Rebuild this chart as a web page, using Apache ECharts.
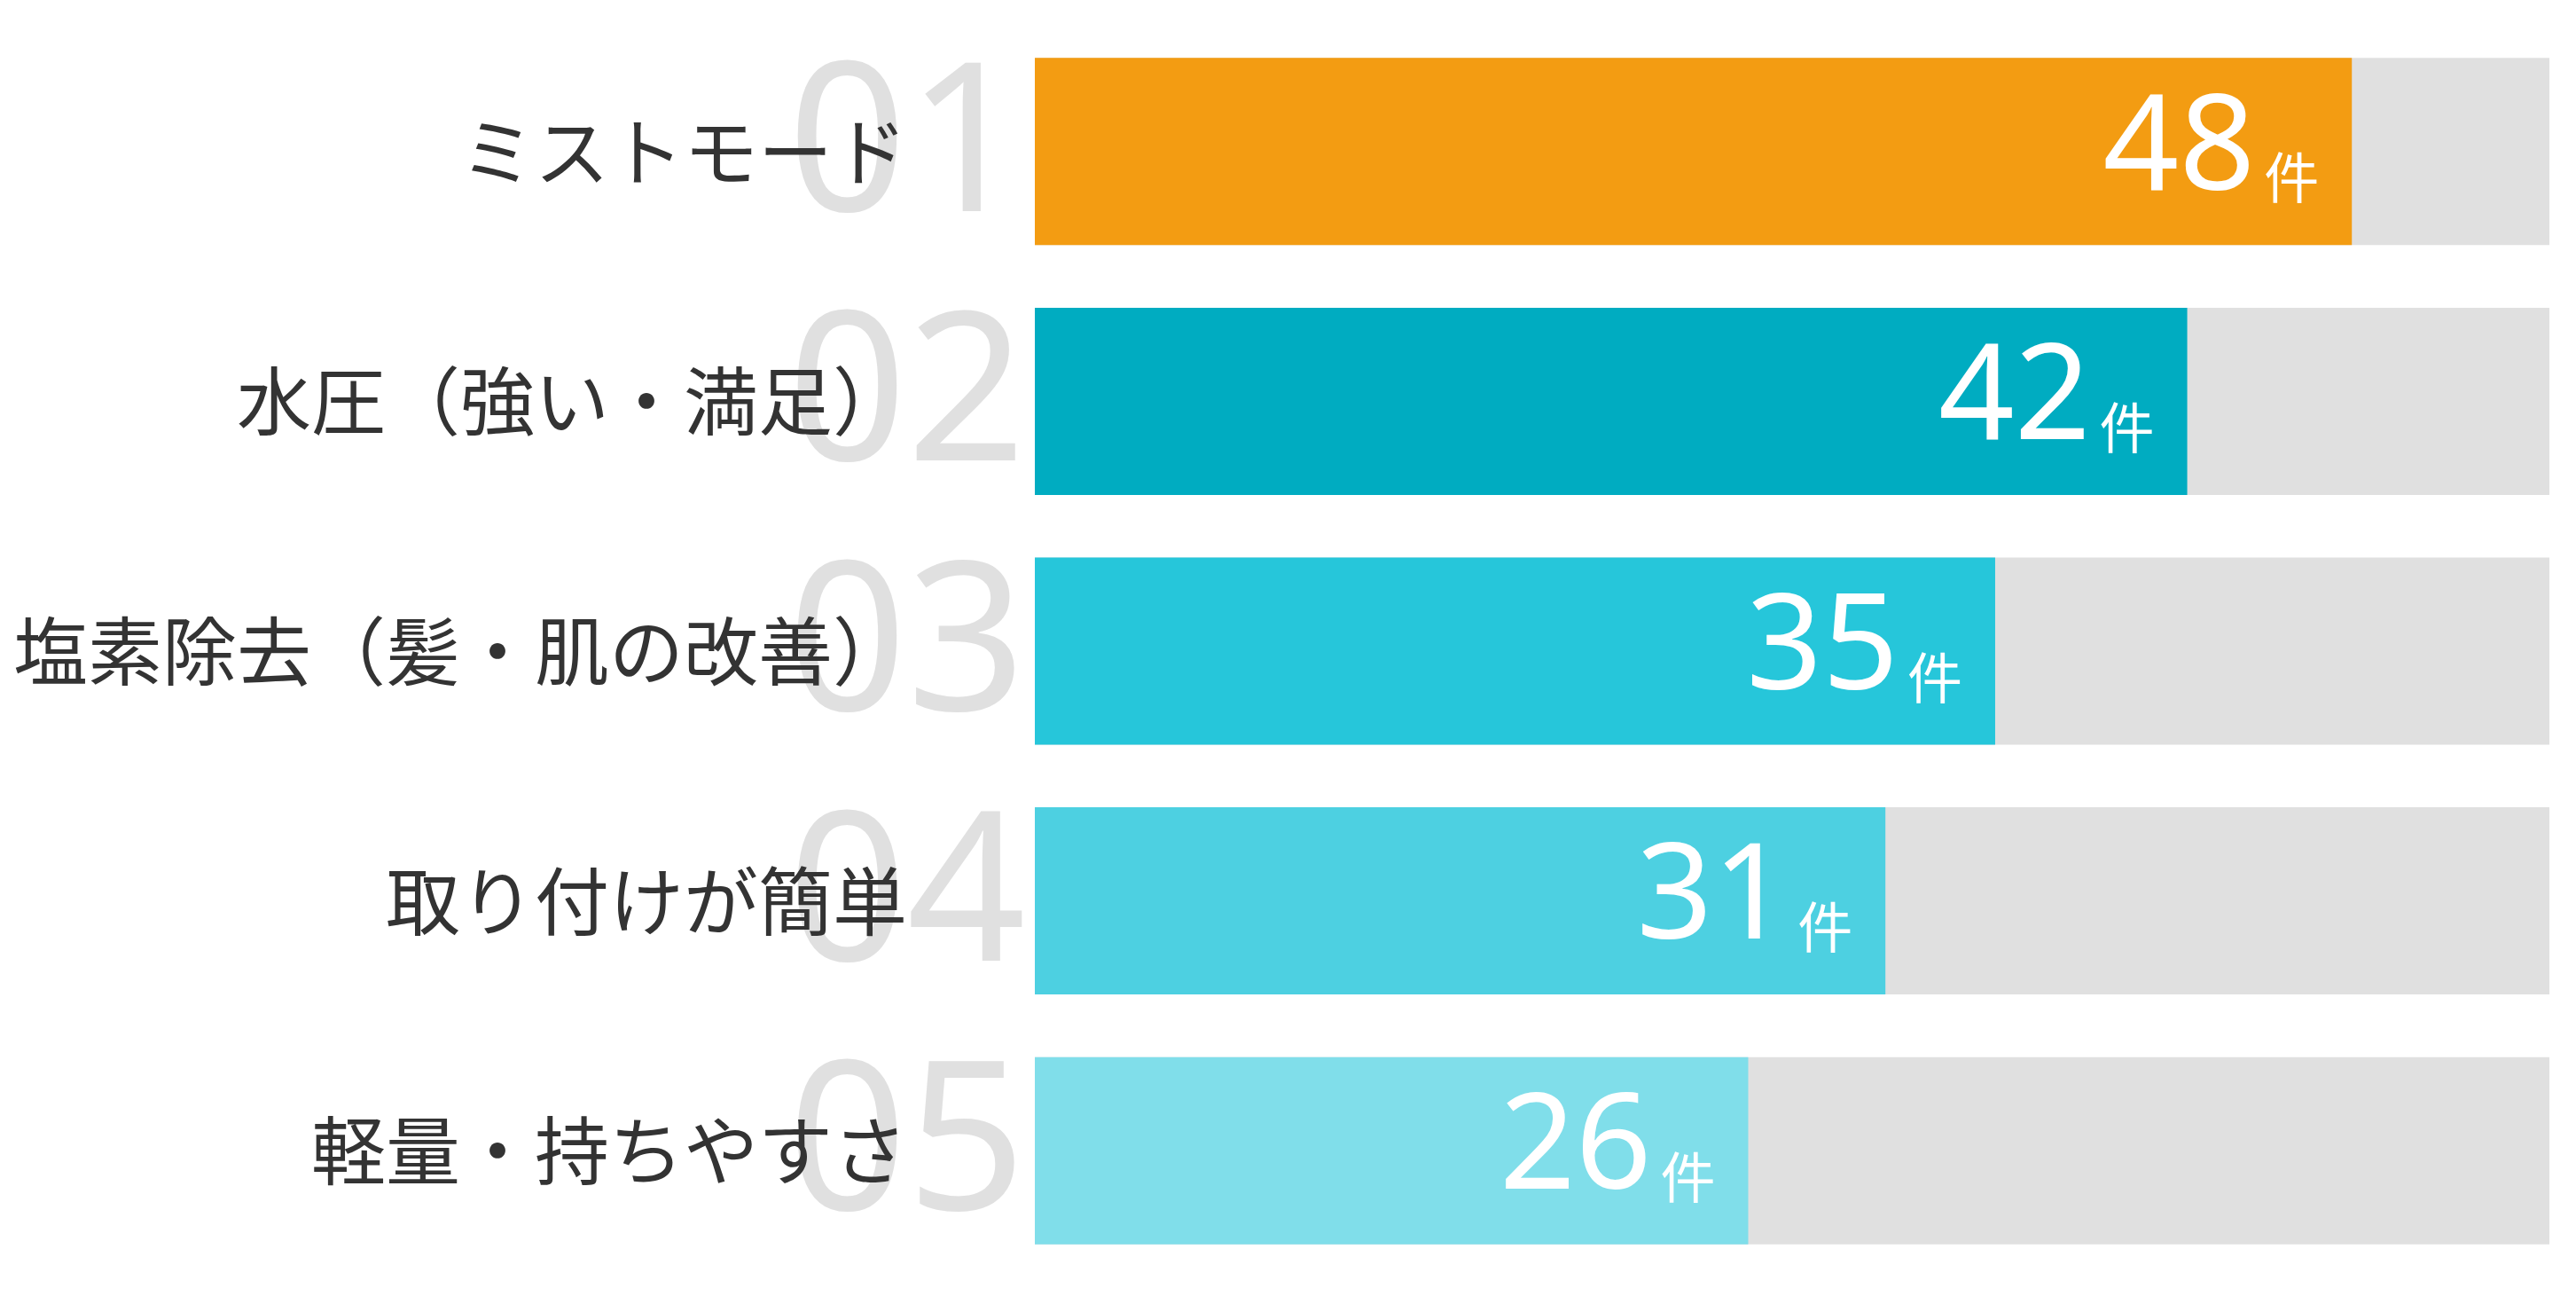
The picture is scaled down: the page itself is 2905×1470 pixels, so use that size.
<!DOCTYPE html>
<html><head><meta charset="utf-8">
<script src="https://cdn.jsdelivr.net/npm/echarts@6/dist/echarts.min.js"></script>
<style>html,body{margin:0;padding:0;background:#fff}#c{width:2905px;height:1470px}</style>
</head><body><div id="c"></div>
<script>
const categories = ['ミストモード','水圧（強い・満足）','塩素除去（髪・肌の改善）','取り付けが簡単','軽量・持ちやすさ'];
const ranks = ['01','02','03','04','05'];
const values = [48,42,35,31,26];
const colors = ['#F39C12','#00ACC1','#26C6DA','#4DD0E1','#80DEEA'];
const chart = echarts.init(document.getElementById('c'));
chart.setOption({
  animation:false,
  grid:{left:1167,right:30,top:30,bottom:32},
  xAxis:{type:'value',min:0,max:55.2,show:false},
  yAxis:[
    {type:'category',data:ranks,inverse:true,z:1,axisLine:{show:false},axisTick:{show:false},
     axisLabel:{interval:0,hideOverlap:false,margin:10,fontSize:235,color:'#e0e0e0',fontFamily:'Noto Sans',fontWeight:400}},
    {type:'category',data:categories,inverse:true,position:'left',z:3,axisLine:{show:false},axisTick:{show:false},
     axisLabel:{interval:0,hideOverlap:false,margin:144,fontSize:84,color:'#333',fontFamily:'Noto Sans CJK JP'}}
  ],
  series:[{type:'bar',yAxisIndex:0,barWidth:211,showBackground:true,backgroundStyle:{color:'#e0e0e0'},
    data:values.map((v,i)=>({value:v,itemStyle:{color:colors[i]}})),
    label:{show:true,position:'insideRight',distance:37,formatter:p=>'{a|'+p.value+'}{b|件}',
      rich:{a:{fontSize:150,color:'#fff',fontFamily:'Noto Sans',padding:[0,10,0,0]},
            b:{fontSize:62,color:'#fff',fontFamily:'Noto Sans CJK JP',padding:[60,0,0,0]}}}}]
});
</script></body></html>
